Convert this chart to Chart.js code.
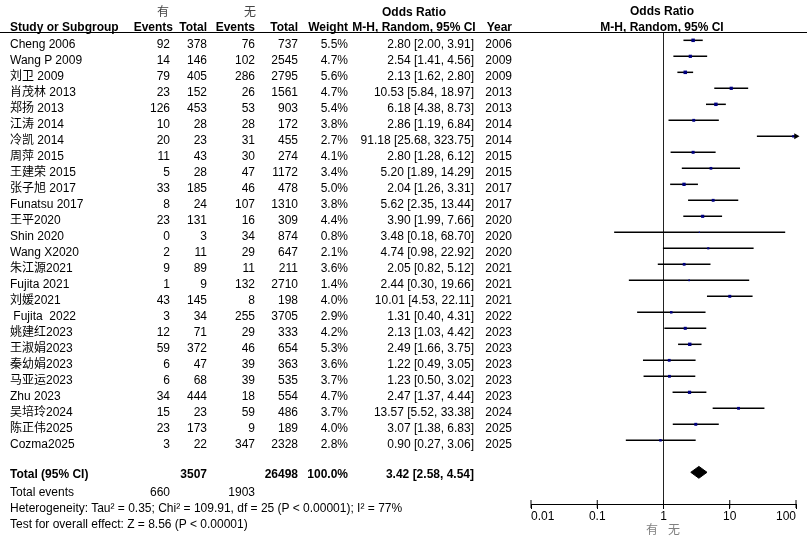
<!DOCTYPE html>
<html>
<head>
<meta charset="utf-8">
<script src="https://cdn.jsdelivr.net/npm/chart.js@4.4.1/dist/chart.umd.min.js"></script>
<style>
  body { margin: 0; background: #fff; }
  #wrap { position: relative; width: 807px; height: 544px; overflow: hidden; }
  #plot { position: absolute; left: 0; top: 0; }
  .t { position: absolute; font: 12px "Liberation Sans", Arial, "Noto Sans CJK SC", sans-serif; line-height: 14px; height: 14px; white-space: pre; color: #000; }
  .b { font-weight: bold; }
  .g { color: #444; }
  .lg { color: #808080; }
  #hline { position: absolute; left: 0; top: 32px; width: 807px; border-top: 1px solid #000; }
</style>
</head>
<body>
<div id="wrap">
  <canvas id="plot" width="807" height="544"></canvas>
  <div id="hline"></div>
</div>
<script>
// datos
const studies = ['Cheng 2006', 'Wang P 2009', '刘卫 2009', '肖茂林 2013', '郑扬 2013', '江涛 2014', '冷凯 2014', '周萍 2015',
  '王建荣 2015', '张子旭 2017', 'Funatsu 2017', '王平2020', 'Shin 2020', 'Wang X2020', '朱江源2021', 'Fujita 2021',
  '刘媛2021', ' Fujita  2022', '姚建红2023', '王淑娟2023', '秦幼娟2023', '马亚运2023', 'Zhu 2023', '吴培玲2024', '陈正伟2025', 'Cozma2025'];
const events1 = [92, 14, 79, 23, 126, 10, 20, 11, 5, 33, 8, 23, 0, 2, 9, 1, 43, 3, 12, 59, 6, 6, 34, 15, 23, 3];
const total1 = [378, 146, 405, 152, 453, 28, 23, 43, 28, 185, 24, 131, 3, 11, 89, 9, 145, 34, 71, 372, 47, 68, 444, 23, 173, 22];
const events2 = [76, 102, 286, 26, 53, 28, 31, 30, 47, 46, 107, 16, 34, 29, 11, 132, 8, 255, 29, 46, 39, 39, 18, 59, 9, 347];
const total2 = [737, 2545, 2795, 1561, 903, 172, 455, 274, 1172, 478, 1310, 309, 874, 647, 211, 2710, 198, 3705, 333, 654, 363, 535, 554, 486, 189, 2328];
const weights = [5.5, 4.7, 5.6, 4.7, 5.4, 3.8, 2.7, 4.1, 3.4, 5.0, 3.8, 4.4, 0.8, 2.1, 3.6, 1.4, 4.0, 2.9, 4.2, 5.3, 3.6, 3.7, 4.7, 3.7, 4.0, 2.8];
const oddsRatio = [2.80, 2.54, 2.13, 10.53, 6.18, 2.86, 91.18, 2.80, 5.20, 2.04, 5.62, 3.90, 3.48, 4.74, 2.05, 2.44, 10.01, 1.31, 2.13, 2.49, 1.22, 1.23, 2.47, 13.57, 3.07, 0.90];
const ciLow = [2.00, 1.41, 1.62, 5.84, 4.38, 1.19, 25.68, 1.28, 1.89, 1.26, 2.35, 1.99, 0.18, 0.98, 0.82, 0.30, 4.53, 0.40, 1.03, 1.66, 0.49, 0.50, 1.37, 5.52, 1.38, 0.27];
const ciHigh = [3.91, 4.56, 2.80, 18.97, 8.73, 6.84, 323.75, 6.12, 14.29, 3.31, 13.44, 7.66, 68.70, 22.92, 5.12, 19.66, 22.11, 4.31, 4.42, 3.75, 3.05, 3.02, 4.44, 33.38, 6.83, 3.06];
const years = [2006, 2009, 2009, 2013, 2013, 2014, 2014, 2015, 2015, 2017, 2017, 2020, 2020, 2020, 2021, 2021, 2021, 2022, 2023, 2023, 2023, 2023, 2023, 2024, 2025, 2025];

const totalEvents = [660, 1903];
const totalN = [3507, 26498];
const totalOR = [3.42, 2.58, 4.54];
const heterogeneity = 'Heterogeneity: Tau² = 0.35; Chi² = 109.91, df = 25 (P < 0.00001); I² = 77%';
const overallTest = 'Test for overall effect: Z = 8.56 (P < 0.00001)';
const tickVals = [0.01, 0.1, 1, 10, 100];

//texto
const wrap = document.getElementById('wrap');
function put(txt, x, y, align, cls) {
  const d = document.createElement('div');
  d.className = 't' + (cls ? ' ' + cls : '');
  d.textContent = txt;
  d.style.top = (y - 7) + 'px';
  if (align === 'right') d.style.right = (807 - x) + 'px';
  else if (align === 'center') { d.style.left = (x - 100) + 'px'; d.style.width = '200px'; d.style.textAlign = 'center'; }
  else d.style.left = x + 'px';
  wrap.appendChild(d);
}
const fmt = (o, l, h) => o.toFixed(2) + ' [' + l.toFixed(2) + ', ' + h.toFixed(2) + ']';

put('有', 163, 11.5, 'center', 'g');
put('无', 250, 11.5, 'center', 'g');
put('Odds Ratio', 414, 11.5, 'center', 'b');
put('Odds Ratio', 662, 11, 'center', 'b');
put('Study or Subgroup', 10, 27, 'left', 'b');
put('Events', 173, 27, 'right', 'b');
put('Total', 207, 27, 'right', 'b');
put('Events', 255, 27, 'right', 'b');
put('Total', 298, 27, 'right', 'b');
put('Weight', 348, 27, 'right', 'b');
put('M-H, Random, 95% CI', 414, 27, 'center', 'b');
put('Year', 512, 27, 'right', 'b');
put('M-H, Random, 95% CI', 662, 26.5, 'center', 'b');

studies.forEach((s, i) => {
  const y = 43.5 + 16 * i;
  put(s, 10, y, 'left');
  put(String(events1[i]), 170, y, 'right');
  put(String(total1[i]), 207, y, 'right');
  put(String(events2[i]), 255, y, 'right');
  put(String(total2[i]), 298, y, 'right');
  put(weights[i].toFixed(1) + '%', 348, y, 'right');
  put(fmt(oddsRatio[i], ciLow[i], ciHigh[i]), 474, y, 'right');
  put(String(years[i]), 512, y, 'right');
});

put('Total (95% CI)', 10, 473.5, 'left', 'b');
put(String(totalN[0]), 207, 473.5, 'right', 'b');
put(String(totalN[1]), 298, 473.5, 'right', 'b');
put('100.0%', 348, 473.5, 'right', 'b');
put(fmt(totalOR[0], totalOR[1], totalOR[2]), 474, 473.5, 'right', 'b');
put('Total events', 10, 491.5, 'left');
put(String(totalEvents[0]), 170, 491.5, 'right');
put(String(totalEvents[1]), 255, 491.5, 'right');
put(heterogeneity, 10, 508, 'left');
put(overallTest, 10, 524, 'left');
put('有', 652, 530, 'center', 'lg');
put('无', 674, 530, 'center', 'lg');

//grafico
const yMin = -0.52, yMax = 28.98;
const xMin = tickVals[0], xMax = tickVals[tickVals.length - 1];
const totalRow = studies.length + 1;

const datasets = [];
datasets.push({
  type: 'line', data: [{ x: 1, y: yMin }, { x: 1, y: yMax }],
  borderColor: '#222', borderWidth: 1, pointRadius: 0, showLine: true, order: 3
});
studies.forEach((s, i) => {
  datasets.push({
    type: 'line', data: [{ x: ciLow[i], y: i }, { x: ciHigh[i], y: i }],
    borderColor: '#000', borderWidth: 1.5, pointRadius: 0, showLine: true, order: 2
  });
});
datasets.push({
  type: 'scatter',
  data: studies.map((s, i) => ({ x: oddsRatio[i], y: i })),
  pointStyle: 'rect', pointRadius: weights.map(w => 1.05 * Math.sqrt(w)),
  backgroundColor: '#000080', borderWidth: 0, order: 1
});
datasets.push({
  type: 'scatter',
  data: studies.map((s, i) => ciHigh[i] > xMax ? { x: xMax, y: i } : null).filter(p => p),
  pointStyle: 'triangle', rotation: 90, pointRadius: 3.5,
  backgroundColor: '#000', borderColor: '#000', borderWidth: 0, clip: false, order: 0
});
datasets.push({
  type: 'line',
  data: [
    { x: totalOR[1], y: totalRow }, { x: totalOR[0], y: totalRow - 0.37 },
    { x: totalOR[2], y: totalRow }, { x: totalOR[0], y: totalRow + 0.37 },
    { x: totalOR[1], y: totalRow }
  ],
  borderColor: '#000', borderWidth: 1, backgroundColor: '#000', fill: 'shape',
  pointRadius: 0, showLine: true, tension: 0, order: 0
});
// marcas del eje que cruzan la linea
datasets.push({
  type: 'scatter',
  data: tickVals.map(v => ({ x: v, y: yMax })),
  pointStyle: 'line', rotation: 90, pointRadius: 4,
  borderColor: '#000', borderWidth: 1, clip: false, order: 0
});

const config = {
  type: 'line',
  data: { datasets: datasets },
  options: {
    responsive: false,
    animation: false,
    layout: { padding: { left: 531, right: 11, top: 32, bottom: 20.6 } },
    plugins: { legend: { display: false }, tooltip: { enabled: false } },
    scales: {
      x: {
        type: 'logarithmic', min: xMin, max: xMax,
        afterBuildTicks: scale => { scale.ticks = tickVals.map(v => ({ value: v })); },
        ticks: {
          autoSkip: false, maxRotation: 0, padding: 0, color: '#000', align: 'inner',
          font: { family: '"Liberation Sans", Arial, sans-serif', size: 12 },
          callback: v => String(v)
        },
        grid: { display: true, drawOnChartArea: false, drawTicks: true, tickLength: 5, color: '#000' },
        border: { display: true, color: '#000', width: 1 }
      },
      y: { type: 'linear', min: yMin, max: yMax, reverse: true, display: false }
    }
  }
};
new Chart(document.getElementById('plot').getContext('2d'), config);
</script>
</body>
</html>
